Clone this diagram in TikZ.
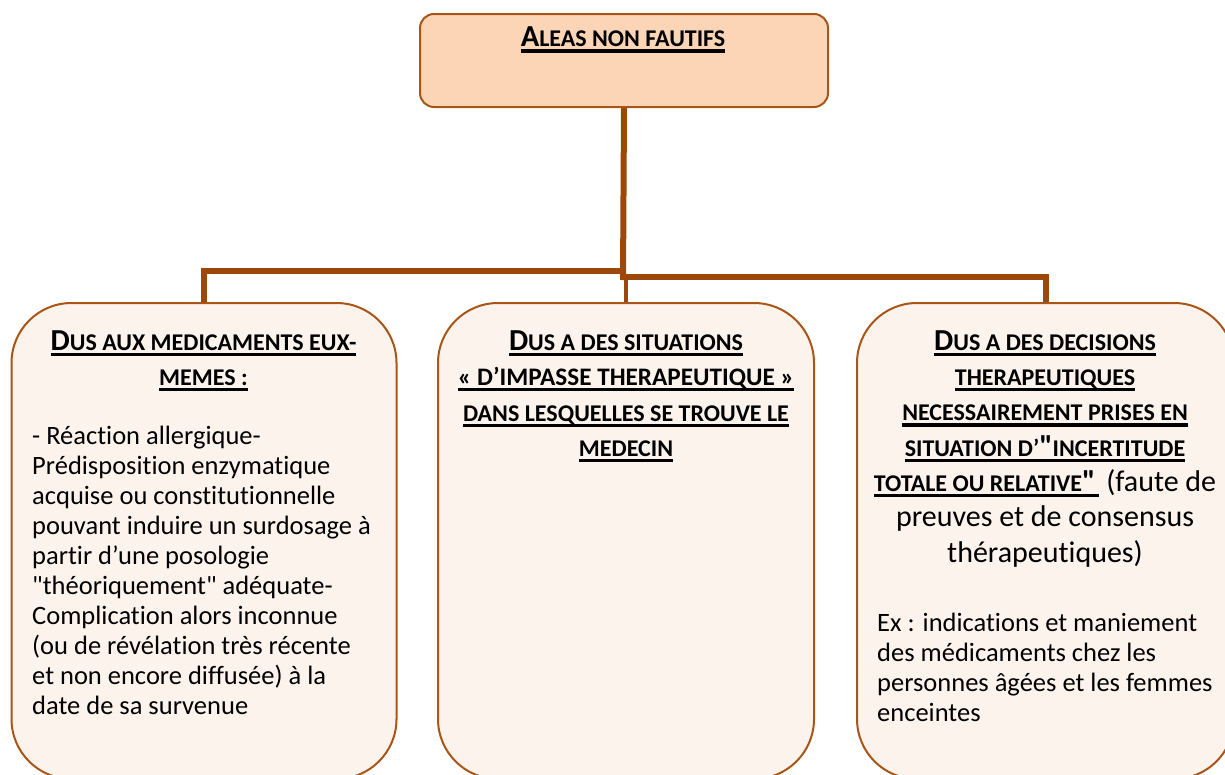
\documentclass[tikz,border=0pt]{standalone}
\usepackage{fontspec}
\setmainfont{Carlito}[Ligatures={NoCommon,TeXOff}]
\definecolor{conncol}{RGB}{156,72,10}
\definecolor{bordcol}{RGB}{168,86,24}
\definecolor{topfill}{RGB}{251,213,181}
\definecolor{boxfill}{RGB}{253,243,237}
\newcommand\dq{\symbol{34}}
\newcommand\myul[1]{\setbox0\hbox{#1}\rlap{\rule[-5.7pt]{\wd0}{3.2pt}}\box0}
\newcommand\BigC[1]{{\fontsize{30.5}{35}\selectfont\bfseries #1}}
\newcommand\SmC[1]{{\fontsize{24}{35}\selectfont\bfseries #1}}
\newcommand\MidC[1]{{\fontsize{25.2}{35}\selectfont\bfseries #1}}
\newcommand\firstline{\rule{0pt}{25pt}}
\tikzset{
  topbox/.style={draw=bordcol, line width=2pt, fill=topfill, rounded corners=14pt, inner sep=0pt},
  lowbox/.style={draw=bordcol, line width=2pt, fill=boxfill, rounded corners=60pt, inner sep=0pt, anchor=north west},
  conn/.style={draw=conncol, line width=6pt},
  head/.style={inner sep=0pt, anchor=north, align=center, font=\fontsize{24}{35.3}\selectfont},
  body/.style={inner sep=0pt, anchor=north west, align=left, font=\fontsize{26.5}{30}\selectfont},
}
\begin{document}
\begin{tikzpicture}[x=1pt,y=-1pt]
\useasboundingbox (0,0) rectangle (1225,774);
\clip (0,0) rectangle (1225,774);
% boxes
\node[topbox, minimum width=408pt, minimum height=93pt, anchor=north west] (top) at (419,13) {};
\node[lowbox, minimum width=385pt, minimum height=476pt] (b1) at (10.5,302) {};
\node[lowbox, minimum width=376pt, minimum height=476pt] (b2) at (437,302) {};
\node[lowbox, minimum width=377pt, minimum height=476pt] (b3) at (856,302) {};
% connectors
\coordinate (jl) at (623,271);
\coordinate (jr) at (623,277);
\draw[conn] (top.south) -- ([yshift=-3pt]jr);
\draw[conn] (b1.north) |- (jl);
\draw[conn] (b3.north) |- (jr);
\draw[conn, line width=4.6pt] (b2.north) -- (b2.north |- jr);
% texts
\node[head] (ttop) at (623,21.7) {\firstline\myul{\BigC{A}\SmC{LEAS NON FAUTIFS}}};
\node[head] (h1) at (203.5,325) {\firstline\myul{\BigC{D}\SmC{US AUX MEDICAMENTS EUX-}}\\
  \myul{\SmC{MEMES :}}};
\node[body] (t1) at (32,419) {\firstline- Réaction allergique-\\
Prédisposition enzymatique\\
acquise ou constitutionnelle\\
pouvant induire un surdosage à\\
partir d’une posologie\\
\dq théoriquement\dq{} adéquate-\\
Complication alors inconnue\\
(ou de révélation très récente\\
et non encore diffusée) à la\\
date de sa survenue};
\node[head, font=\fontsize{24}{35.5}\selectfont] (h2) at (626,325) {\firstline\myul{\BigC{D}\SmC{US A DES SITUATIONS}}\\
  \myul{\MidC{« D’IMPASSE THERAPEUTIQUE »}}\\
  \myul{\SmC{DANS LESQUELLES SE TROUVE LE}}\\
  \myul{\SmC{MEDECIN}}};
\node[head] (h3) at (1045,325) {\firstline\myul{\BigC{D}\SmC{US A DES DECISIONS}}\\
  \myul{\SmC{THERAPEUTIQUES}}\\
  \myul{\SmC{NECESSAIREMENT PRISES EN}}\\
  \myul{\SmC{SITUATION D’}\BigC{\dq}\SmC{INCERTITUDE}}\\
  \myul{\SmC{TOTALE OU RELATIVE}\BigC{\dq}\,}{\fontsize{30}{35}\selectfont\ (faute de}\\
  {\fontsize{30}{35}\selectfont preuves et de consensus}\\
  {\fontsize{30}{35}\selectfont thérapeutiques)}};
\node[body] (t3) at (877,606) {\firstline Ex : indications et maniement\\
des médicaments chez les\\
personnes âgées et les femmes\\
enceintes};
\end{tikzpicture}
\end{document}
